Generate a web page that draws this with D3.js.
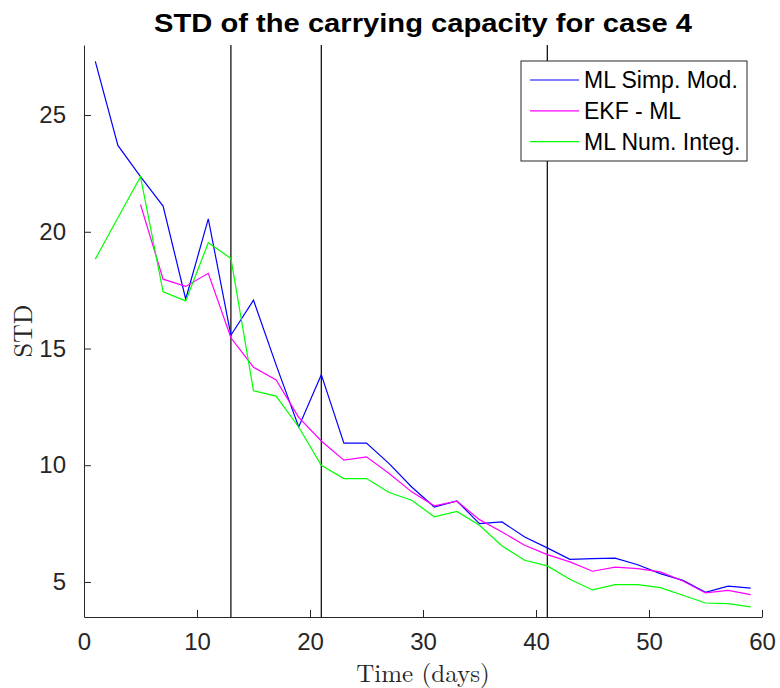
<!DOCTYPE html>
<html>
<head>
<meta charset="utf-8">
<script src="https://cdn.jsdelivr.net/npm/d3@7"></script>
<style>
  body { margin: 0; background: #fff; }
  svg { display: block; }
  .tick text { font-family: "Liberation Sans", Arial, sans-serif; font-size: 24px; fill: #262626; }
  .tick line, .domain { stroke: #262626; }
</style>
</head>
<body>
<svg id="chart" width="780" height="688"></svg>
<script>
// Chart data
const days = [1, 3, 5, 7, 9, 11, 13, 15, 17, 19, 21, 23, 25, 27, 29,
  31, 33, 35, 37, 39, 41, 43, 45, 47, 49, 51, 53, 55, 57, 59];
const mlSimp = [27.3, 23.7, 22.36, 21.1, 17.12, 20.55, 15.57, 17.07, 14.3, 11.64,
  13.88, 10.95, 10.95, 10.07, 9.07, 8.21, 8.47, 7.5, 7.57, 6.93,
  6.46, 5.97, 6.0, 6.02, 5.74, 5.36, 5.07, 4.56, 4.82, 4.74];
const ekfMl = [null, null, 21.17, 17.97, 17.66, 18.22, 15.46, 14.2, 13.65, 12.05,
  11.04, 10.22, 10.36, 9.65, 8.86, 8.26, 8.46, 7.67, 7.14, 6.57,
  6.17, 5.86, 5.46, 5.64, 5.57, 5.43, 5.04, 4.53, 4.64, 4.46];
const mlNum = [18.83, 20.6, 22.36, 17.43, 17.04, 19.53, 18.86, 13.19, 12.96, 11.64,
  10.0, 9.43, 9.43, 8.83, 8.5, 7.79, 8.02, 7.43, 6.54, 5.93,
  5.69, 5.12, 4.66, 4.89, 4.89, 4.76, 4.43, 4.1, 4.07, 3.93];
const seriesNames = ['ML Simp. Mod.', 'EKF - ML', 'ML Num. Integ.'];
const seriesColors = ['#0000ff', '#ff00ff', '#00ff00'];
const markerDays = [13, 21, 41];
const xTicks = [0, 10, 20, 30, 40, 50, 60];
const yTicks = [5, 10, 15, 20, 25];

const margin = { top: 45, right: 18, bottom: 71, left: 84 };
const width = 780, height = 688;

const svg = d3.select('#chart');

const x = d3.scaleLinear().domain([0, 60]).range([margin.left, width - margin.right]);
const y = d3.scaleLinear().domain([3.5, 28]).range([height - margin.bottom, margin.top]);

// Axes (MATLAB style, ticks inward, no box)
const xAxis = svg.append('g')
  .attr('transform', `translate(0,${height - margin.bottom})`)
  .call(d3.axisBottom(x).tickValues(xTicks).tickSizeInner(-7).tickSizeOuter(0).tickPadding(16));
xAxis.selectAll('.tick text').attr('dy', '0.71em');

const yAxis = svg.append('g')
  .attr('transform', `translate(${margin.left},0)`)
  .call(d3.axisLeft(y).tickValues(yTicks).tickSizeInner(-7).tickSizeOuter(0).tickPadding(18));

// Vertical reference lines
svg.append('g').selectAll('line')
  .data(markerDays)
  .join('line')
  .attr('x1', d => x(d)).attr('x2', d => x(d))
  .attr('y1', margin.top).attr('y2', height - margin.bottom)
  .attr('stroke', 'black')
  .attr('stroke-width', 1.2);

// Series lines
const allSeries = [mlSimp, ekfMl, mlNum];
const line = d3.line()
  .defined(d => d[1] !== null)
  .x(d => x(d[0]))
  .y(d => y(d[1]));

svg.append('g').selectAll('path')
  .data(allSeries)
  .join('path')
  .attr('d', vals => line(days.map((d, i) => [d, vals[i]])))
  .attr('fill', 'none')
  .attr('stroke', (d, i) => seriesColors[i])
  .attr('stroke-width', 1.2);

// Legend
const legend = svg.append('g').attr('transform', 'translate(521,61)');
legend.append('rect')
  .attr('width', 226).attr('height', 100)
  .attr('fill', 'white')
  .attr('stroke', '#262626');
const rows = legend.selectAll('.row')
  .data(seriesNames)
  .join('g')
  .attr('class', 'row')
  .attr('transform', (d, i) => `translate(0,${19 + i * 30.8})`);
rows.append('line')
  .attr('x1', 9).attr('x2', 58)
  .attr('stroke', (d, i) => seriesColors[i])
  .attr('stroke-width', 1.2);
rows.append('text')
  .attr('x', 63)
  .attr('dy', '0.36em')
  .attr('font-family', '"Liberation Sans", Arial, sans-serif')
  .attr('font-size', 23)
  .attr('fill', 'black')
  .text(d => d);

// Title and axis labels
svg.append('text')
  .attr('x', (margin.left + width - margin.right) / 2)
  .attr('y', 32)
  .attr('text-anchor', 'middle')
  .attr('font-family', '"Liberation Sans", Arial, sans-serif')
  .attr('font-weight', 'bold')
  .attr('font-size', 25)
  .attr('textLength', 538)
  .attr('lengthAdjust', 'spacingAndGlyphs')
  .text('STD of the carrying capacity for case 4');

svg.append('text')
  .attr('x', (margin.left + width - margin.right) / 2)
  .attr('y', 682)
  .attr('text-anchor', 'middle')
  .attr('font-family', '"Latin Modern Roman", "Liberation Serif", serif')
  .attr('font-size', 25)
  .attr('fill', '#262626')
  .text('Time (days)');

svg.append('text')
  .attr('transform', `translate(32,${(margin.top + height - margin.bottom) / 2}) rotate(-90)`)
  .attr('text-anchor', 'middle')
  .attr('font-family', '"Latin Modern Roman", "Liberation Serif", serif')
  .attr('font-size', 26)
  .attr('fill', '#262626')
  .text('STD');
</script>
</body>
</html>
